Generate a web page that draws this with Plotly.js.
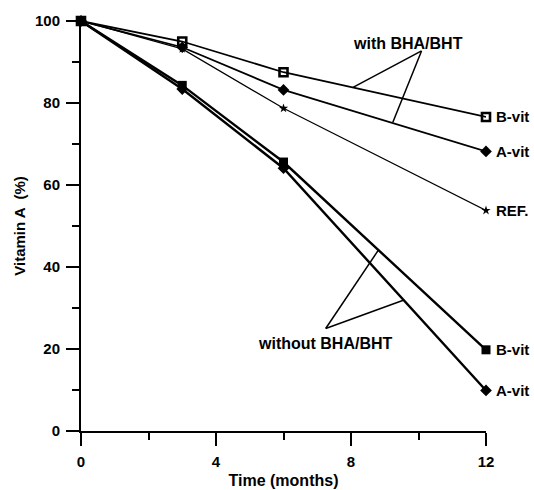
<!DOCTYPE html>
<html>
<head>
<meta charset="utf-8">
<script src="https://cdn.plot.ly/plotly-3.0.1.min.js"></script>
<style>html,body{margin:0;padding:0;background:#fff;}#chart{width:534px;height:490px;}</style>
</head>
<body>
<div id="chart"></div>
<script>
const months = [0, 3, 6, 12];
const bvitWith = [100, 95, 87.5, 76.6];
const avitWith = [100, 93.6, 83.2, 68.2];
const refValues = [100, 93.2, 78.7, 53.8];
const bvitWithout = [100, 84.3, 65.6, 19.8];
const avitWithout = [100, 83.4, 64.1, 9.9];
const endLabels = ["B-vit", "A-vit", "REF.", "B-vit", "A-vit"];
const xTicks = [0, 4, 8, 12];
const yTicks = [0, 20, 40, 60, 80, 100];

const FONT = "Liberation Sans, Arial, sans-serif";
const series = [
  {y: bvitWith, sym: "square-open", size: 8, lw: 1.8, mlw: 2.6},
  {y: avitWith, sym: "diamond", size: 9, lw: 1.8, mlw: 0},
  {y: refValues, sym: "star", size: 7, lw: 1.2, mlw: 0},
  {y: bvitWithout, sym: "square", size: 9, lw: 2.4, mlw: 0},
  {y: avitWithout, sym: "diamond", size: 9, lw: 2.4, mlw: 0}
];
const traces = series.map(s => ({
  x: months, y: s.y, type: "scatter", mode: "lines+markers",
  line: {color: "#000", width: s.lw},
  marker: {symbol: s.sym, size: s.size, color: "#000", line: {color: "#000", width: s.mlw}},
  cliponaxis: false, showlegend: false, hoverinfo: "skip"
}));

const annotations = series.map((s, i) => ({
  x: months[months.length - 1], y: s.y[s.y.length - 1], xref: "x", yref: "y",
  text: endLabels[i], showarrow: false, xanchor: "left", xshift: 8,
  font: {family: FONT, size: 15, color: "#000", weight: "bold"}
}));
annotations.push({x: 9.69, y: 94.6, xref: "x", yref: "y", text: "with BHA/BHT", showarrow: false,
  font: {family: FONT, size: 16, color: "#000", weight: "bold"}});
annotations.push({x: 7.23, y: 21.4, xref: "x", yref: "y", text: "without BHA/BHT", showarrow: false,
  font: {family: FONT, size: 16, color: "#000", weight: "bold"}});

const ln = {color: "#000", width: 1.5};
const shapes = [
  {type: "line", xref: "x", yref: "y", x0: 10.09, y0: 92.7, x1: 8.06, y1: 83.8, line: ln},
  {type: "line", xref: "x", yref: "y", x0: 10.09, y0: 92.7, x1: 9.24, y1: 75.3, line: ln},
  {type: "line", xref: "x", yref: "y", x0: 7.25, y0: 25.0, x1: 8.81, y1: 44.1, line: ln},
  {type: "line", xref: "x", yref: "y", x0: 7.25, y0: 25.0, x1: 9.55, y1: 31.9, line: ln}
];

const layout = {
  width: 534, height: 490,
  margin: {l: 81, r: 48, t: 21, b: 59},
  paper_bgcolor: "#fff", plot_bgcolor: "#fff",
  font: {family: FONT, color: "#000"},
  xaxis: {
    range: [0, 12], tickvals: xTicks, ticktext: xTicks.map(String),
    showline: true, linecolor: "#000", linewidth: 2, showgrid: false, zeroline: false,
    ticks: "outside", ticklen: 13, tickwidth: 2, tickcolor: "#000",
    minor: {dtick: 2, ticks: "outside", ticklen: 7, tickwidth: 2, tickcolor: "#000"},
    tickfont: {family: FONT, size: 15, weight: "bold"}, ticklabelstandoff: 3,
    title: {text: "Time (months)", font: {family: FONT, size: 16, weight: "bold"}, standoff: 6}
  },
  yaxis: {
    range: [0, 100], tickvals: yTicks, ticktext: yTicks.map(String),
    showline: true, linecolor: "#000", linewidth: 2, showgrid: false, zeroline: false,
    ticks: "outside", ticklen: 13, tickwidth: 2, tickcolor: "#000",
    minor: {dtick: 10, ticks: "outside", ticklen: 7, tickwidth: 2, tickcolor: "#000"},
    tickfont: {family: FONT, size: 15, weight: "bold"}, ticklabelstandoff: 3,
    title: {text: "Vitamin A  (%)", font: {family: FONT, size: 15, weight: "bold"}, standoff: 6}
  },
  annotations: annotations,
  shapes: shapes
};
Plotly.newPlot("chart", traces, layout, {displayModeBar: false, staticPlot: true});
</script>
</body>
</html>
